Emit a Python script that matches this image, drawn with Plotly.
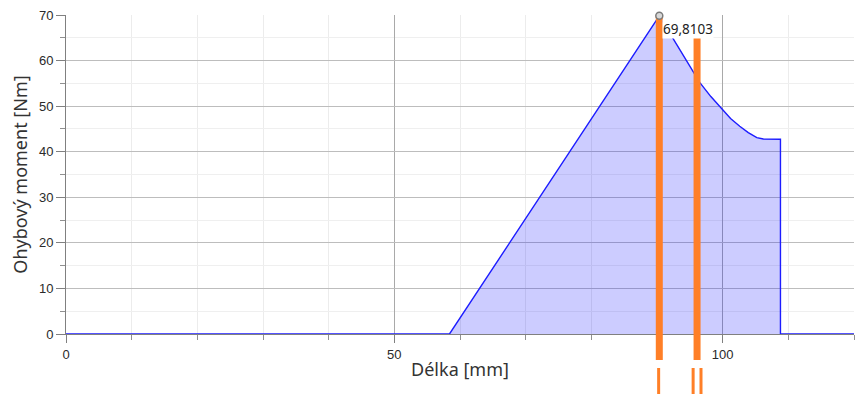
import plotly.graph_objects as go

# Bending moment along the shaft
delka_mm = [0, 58.4, 90.35, 92.2, 94.5, 96.5, 98.2, 99.9, 101.2, 102.6, 103.9, 105.2,
            106.2, 108.8, 108.8, 120]
moment_nm = [0, 0, 69.8103, 65.4, 60.0, 55.2, 52.1, 49.25, 47.3, 45.6, 44.2, 43.1,
             42.8, 42.75, 0, 0]

# Maximum moment
peak_x = 90.35
peak_val = 69.8103

# Section markers (thick bars) and their positions on the ruler below the axis
bar_x = [90.35, 96.1]
bar_top = [69.8103, 65.6]
rug_x = [90.25, 95.5, 96.7]

X_RANGE = [0, 120]
Y_RANGE = [0, 70]

ORANGE = "#ff7f27"
BLUE = "#1c1cff"
TICK_FONT = dict(family="Liberation Sans", size=13, color="#2a2a2a")
TITLE_FONT = dict(family="Noto Sans", size=18, color="#333333")

fig = go.Figure()
fig.add_trace(go.Scatter(
    x=delka_mm, y=moment_nm, mode="lines",
    line=dict(color=BLUE, width=1.4),
    fill="tozeroy", fillcolor="rgba(0,0,255,0.2)",
    hoverinfo="skip",
))

shapes = []
for xb, top in zip(bar_x, bar_top):
    # part inside the plot area
    shapes.append(dict(type="line", xref="x", yref="y", x0=xb, x1=xb, y0=0, y1=top,
                       line=dict(color=ORANGE, width=7)))
    # continuation below the axis
    shapes.append(dict(type="line", xref="x", yref="paper", ysizemode="pixel", yanchor=0,
                       x0=xb, x1=xb, y0=-26, y1=0, line=dict(color=ORANGE, width=7)))
for xr in rug_x:
    shapes.append(dict(type="line", xref="x", yref="paper", ysizemode="pixel", yanchor=0,
                       x0=xr, x1=xr, y0=-34, y1=-60, line=dict(color=ORANGE, width=3)))
# marker at the maximum (anchored in axis-domain units so it is not clipped at the top)
peak_frac = (peak_val - Y_RANGE[0]) / (Y_RANGE[1] - Y_RANGE[0])
shapes.append(dict(type="circle", xref="x", yref="y domain", xsizemode="pixel", ysizemode="pixel",
                   xanchor=peak_x, yanchor=peak_frac, x0=-3.5, x1=3.5, y0=-3.5, y1=3.5,
                   fillcolor="#d8d8d8", line=dict(color="#7a7a7a", width=1.5)))

fig.update_layout(
    width=856, height=397,
    margin=dict(l=66, r=2, t=15, b=63),
    paper_bgcolor="white", plot_bgcolor="white",
    showlegend=False,
    shapes=shapes,
    annotations=[dict(
        x=peak_x, y=peak_val, xref="x", yref="y",
        text=f"{peak_val:.4f}".replace(".", ","),
        showarrow=False, xanchor="left", yanchor="top", xshift=3, yshift=-3,
        bgcolor="white", borderpad=0,
        font=dict(family="Noto Sans", size=13.5, color="#222222"),
    )],
    xaxis=dict(
        range=X_RANGE, tick0=0, dtick=50,
        showgrid=True, gridcolor="#a9a9a9", gridwidth=1,
        ticks="outside", ticklen=8, tickcolor="#808080",
        showline=True, linecolor="#808080", zeroline=False,
        minor=dict(dtick=10, showgrid=True, gridcolor="#ececec",
                   ticks="outside", ticklen=5, tickcolor="#909090"),
        tickfont=TICK_FONT,
        title=dict(text="Délka [mm]", font=TITLE_FONT, standoff=2),
        automargin=False,
    ),
    yaxis=dict(
        range=Y_RANGE, tick0=0, dtick=10,
        showgrid=True, gridcolor="#bdbdbd", gridwidth=1,
        ticks="outside", ticklen=9, tickcolor="#808080",
        showline=True, linecolor="#808080", zeroline=False,
        minor=dict(dtick=5, showgrid=True, gridcolor="#efefef",
                   ticks="outside", ticklen=5, tickcolor="#909090"),
        tickfont=TICK_FONT,
        title=dict(text="Ohybový moment [Nm]", font=TITLE_FONT, standoff=6),
        automargin=False,
    ),
)

fig.write_html("out.html")
